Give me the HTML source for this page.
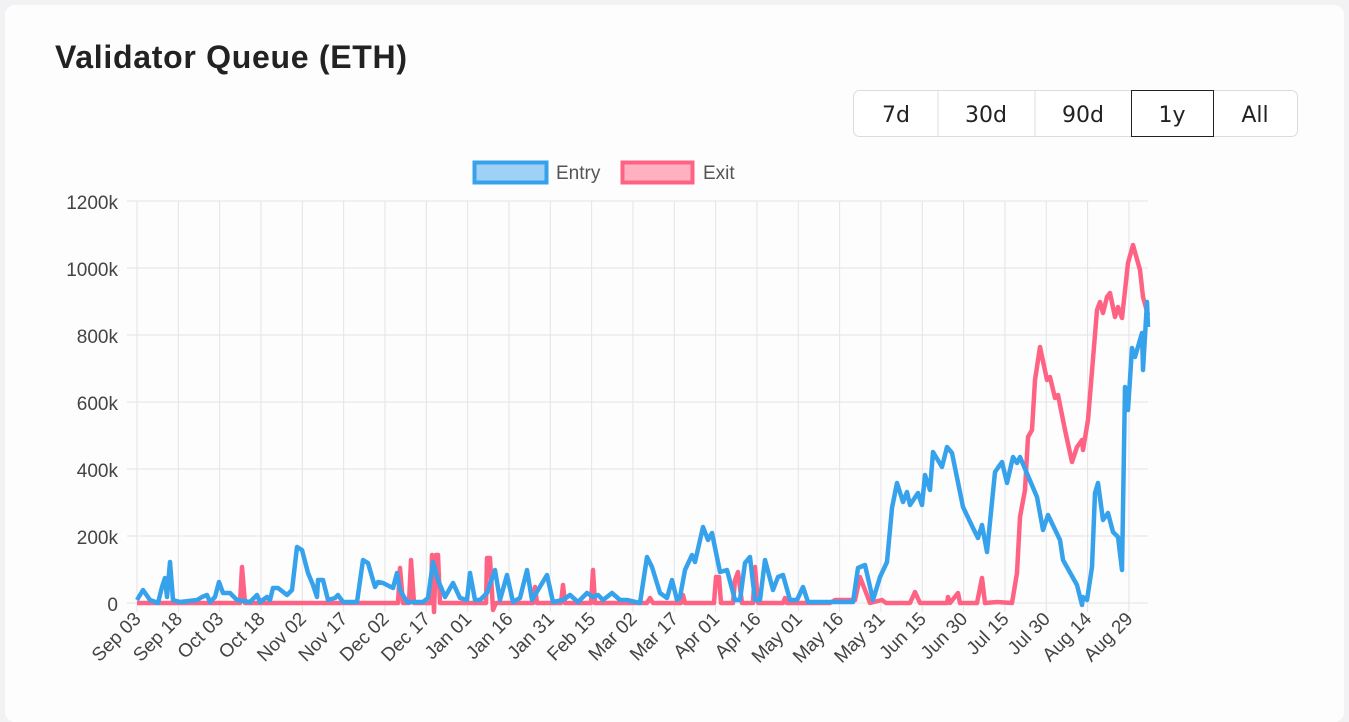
<!DOCTYPE html>
<html><head><meta charset="utf-8"><style>
html,body{margin:0;padding:0;background:#f2f2f4;width:1349px;height:722px;overflow:hidden}
.card{position:absolute;left:5px;top:5px;width:1339px;height:717px;background:#fdfdfe;border-radius:10px}
svg{position:absolute;left:0;top:0}
</style></head><body>
<div class="card"></div>
<svg width="1349" height="722" font-family="Liberation Sans, sans-serif">
<text x="55" y="68" font-size="32" font-weight="bold" fill="#222" font-family="Liberation Sans, sans-serif" textLength="352">Validator Queue (ETH)</text>
<rect x="853.5" y="90.5" width="444" height="46" rx="6" fill="#fff" stroke="#dcdcdf"/>
<line x1="938" y1="91" x2="938" y2="136" stroke="#dcdcdf"/>
<line x1="1035" y1="91" x2="1035" y2="136" stroke="#dcdcdf"/>
<rect x="1131.5" y="90.5" width="82" height="46" fill="#fff" stroke="#222"/>
<g font-size="22" fill="#222" text-anchor="middle" font-family="DejaVu Sans, sans-serif">
<text x="896" y="122">7d</text><text x="986" y="122">30d</text><text x="1083" y="122">90d</text><text x="1172" y="122">1y</text><text x="1255" y="122">All</text></g>
<rect x="474.5" y="162.5" width="72" height="20" fill="#9fd0f5" stroke="#36a2eb" stroke-width="4"/>
<text x="556" y="179" font-size="19" fill="#555">Entry</text>
<rect x="622.5" y="162.5" width="70" height="20" fill="#ffb1c1" stroke="#ff6384" stroke-width="4"/>
<text x="703" y="179" font-size="19" fill="#555">Exit</text>
<g stroke="#e4e4e6" stroke-width="1">
<line x1="127" y1="201" x2="1148" y2="201"/><line x1="127" y1="268" x2="1148" y2="268"/><line x1="127" y1="335" x2="1148" y2="335"/><line x1="127" y1="402" x2="1148" y2="402"/><line x1="127" y1="469" x2="1148" y2="469"/><line x1="127" y1="536" x2="1148" y2="536"/><line x1="127" y1="603" x2="1148" y2="603"/>
</g>
<g id="vg" stroke="#e4e4e6" stroke-width="1"></g>
<g font-size="19" fill="#444" text-anchor="end">
<text x="118" y="209">1200k</text><text x="118" y="276">1000k</text><text x="118" y="343">800k</text><text x="118" y="410">600k</text><text x="118" y="477">400k</text><text x="118" y="544">200k</text><text x="118" y="611">0</text></g>
<g id="xl" font-size="19" fill="#444" text-anchor="end"></g>
<polyline fill="none" stroke="#ff6384" stroke-width="4.5" stroke-linejoin="round" points="137,603 240,603 242,567 245,603 398,603 400,568 403,603 409,603 411,560 414,603 431,603 432,555 434,612 436,555 438,555 440,603 486,603 487,558 490,558 493,610 496,603 533,603 535,587 537,603 561,603 563,585 565,603 591,603 593,570 595,603 647,603 650,598 653,603 681,603 683,595 685,603 714,603 716,577 719,577 721,603 733,603 735,580 738,572 742,603 753,603 755,567 758,603 783,603 785,598 787,603 830,603 835,600 850,600 855,600 860,577 870,603 882,600 886,603 910,603 915,592 920,603 947,603 948,597 950,603 958,593 960,603 977,603 982,578 985,603 997,602 1012,603 1017,573 1020,517 1025,490 1028,437 1032,430 1035,380 1040,347 1047,380 1050,377 1055,398 1058,395 1065,430 1072,462 1077,447 1082,440 1083,450 1088,420 1097,310 1100,302 1103,313 1107,297 1110,293 1115,317 1118,307 1122,318 1128,263 1133,245 1140,270 1143,297 1148,315"/>
<polyline fill="none" stroke="#36a2eb" stroke-width="4.5" stroke-linejoin="round" points="137,600 143,590 150,600 158,603 162,587 165,578 167,597 170,562 173,600 180,602 197,600 202,597 207,595 210,602 215,597 219,582 223,593 230,593 237,600 250,602 257,595 260,602 267,597 270,600 273,588 278,588 287,595 292,590 297,547 302,550 308,573 313,585 317,597 318,580 323,580 328,600 335,598 338,595 343,602 357,602 363,560 368,563 375,587 378,582 383,583 393,588 397,573 400,590 407,602 423,602 428,598 433,562 438,580 445,597 453,583 460,598 467,600 470,573 475,600 480,600 487,593 495,570 500,600 507,575 513,602 520,598 527,570 532,600 538,590 547,575 553,602 563,600 570,595 578,602 587,593 593,597 598,595 603,600 612,593 620,600 627,600 640,603 647,557 652,567 660,593 667,598 672,580 677,600 680,597 685,570 692,555 695,562 703,527 708,540 712,533 720,572 727,570 735,600 740,600 745,563 750,557 755,600 760,600 765,560 773,590 778,577 783,575 790,600 797,600 803,587 808,602 853,602 858,568 865,565 873,600 880,577 887,562 892,508 897,483 903,502 907,492 910,505 918,493 922,505 925,475 930,490 933,452 942,467 947,447 952,453 963,507 973,528 978,538 982,525 987,552 995,472 1002,462 1007,483 1013,457 1017,463 1020,457 1037,497 1043,530 1048,515 1060,540 1063,560 1077,585 1082,605 1083,597 1087,600 1092,567 1095,493 1098,483 1103,520 1108,513 1113,532 1118,537 1122,570 1125,387 1128,410 1132,348 1135,357 1142,333 1143,370 1147,302 1148,327"/>
</svg>
<script>
var labels=["Sep 03","Sep 18","Oct 03","Oct 18","Nov 02","Nov 17","Dec 02","Dec 17","Jan 01","Jan 16","Jan 31","Feb 15","Mar 02","Mar 17","Apr 01","Apr 16","May 01","May 16","May 31","Jun 15","Jun 30","Jul 15","Jul 30","Aug 14","Aug 29"];
var ns="http://www.w3.org/2000/svg",vg=document.getElementById("vg"),xl=document.getElementById("xl");
for(var i=0;i<25;i++){var x=137+i*41.33;
var l=document.createElementNS(ns,"line");l.setAttribute("x1",x);l.setAttribute("x2",x);l.setAttribute("y1",201);l.setAttribute("y2",612);vg.appendChild(l);
var t=document.createElementNS(ns,"text");t.setAttribute("transform","translate("+(x+5)+",620) rotate(-45)");t.textContent=labels[i];xl.appendChild(t);}
</script>
</body></html>
